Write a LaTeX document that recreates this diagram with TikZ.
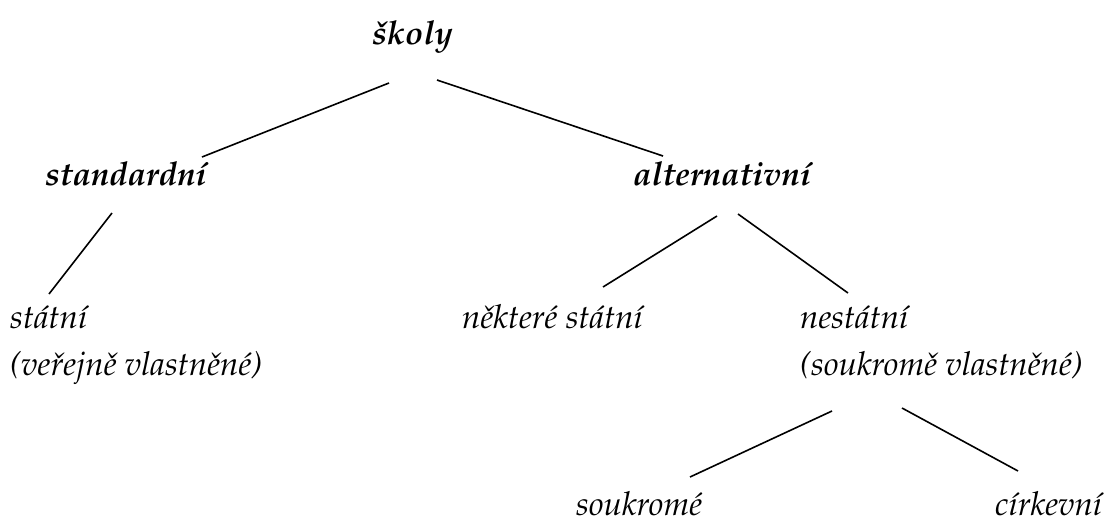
\documentclass[tikz,border=0pt]{standalone}
\usepackage[T1]{fontenc}
\usepackage{mathpazo}
\begin{document}
\begin{tikzpicture}[x=1pt,y=-1pt,
  lbl/.style={anchor=base west,inner sep=0pt,font=\fontsize{33}{38}\selectfont\itshape},
  head/.style={lbl,font=\fontsize{33}{38}\selectfont\bfseries\itshape},
  branch/.style={line width=1.6pt}]
\useasboundingbox (0,0) rectangle (1109,523);
% labels
\node[head] (skoly) at (372,44) {\v{s}koly};
\node[head] (std) at (45,185) {standardn\'{\i}};
\node[head] (alt) at (633,185) {alternativn\'{\i}};
\node[lbl] (stat) at (10,328) {st\'atn\'{\i}};
\node[lbl] (statb) at (10,375) {(ve\v{r}ejn\v{e} vlastn\v{e}n\'e)};
\node[lbl] (nek) at (462,328) {n\v{e}kter\'e st\'atn\'{\i}};
\node[lbl] (nest) at (800,328) {nest\'atn\'{\i}};
\node[lbl] (nestb) at (800,375) {(soukrom\v{e} vlastn\v{e}n\'e)};
\node[lbl] (souk) at (576,515) {soukrom\'e};
\node[lbl] (cirk) at (995,515) {c\'{\i}rkevn\'{\i}};
% line ends
\coordinate (skoly-l) at (389,83);
\coordinate (skoly-r) at (437,80);
\coordinate (std-t) at (202,157);
\coordinate (alt-t) at (663,156);
\coordinate (std-b) at (112,213);
\coordinate (stat-t) at (49,294);
\coordinate (alt-l) at (717,216);
\coordinate (alt-r) at (738,214);
\coordinate (nek-t) at (603,287);
\coordinate (nest-t) at (848,293);
\coordinate (nestb-l) at (832,411);
\coordinate (nestb-r) at (902,408);
\coordinate (souk-t) at (690,477);
\coordinate (cirk-t) at (1018,471);
% branches
\draw[branch] (skoly-l) -- (std-t);
\draw[branch] (skoly-r) -- (alt-t);
\draw[branch] (std-b) -- (stat-t);
\draw[branch] (alt-l) -- (nek-t);
\draw[branch] (alt-r) -- (nest-t);
\draw[branch] (nestb-l) -- (souk-t);
\draw[branch] (nestb-r) -- (cirk-t);
\end{tikzpicture}
\end{document}
